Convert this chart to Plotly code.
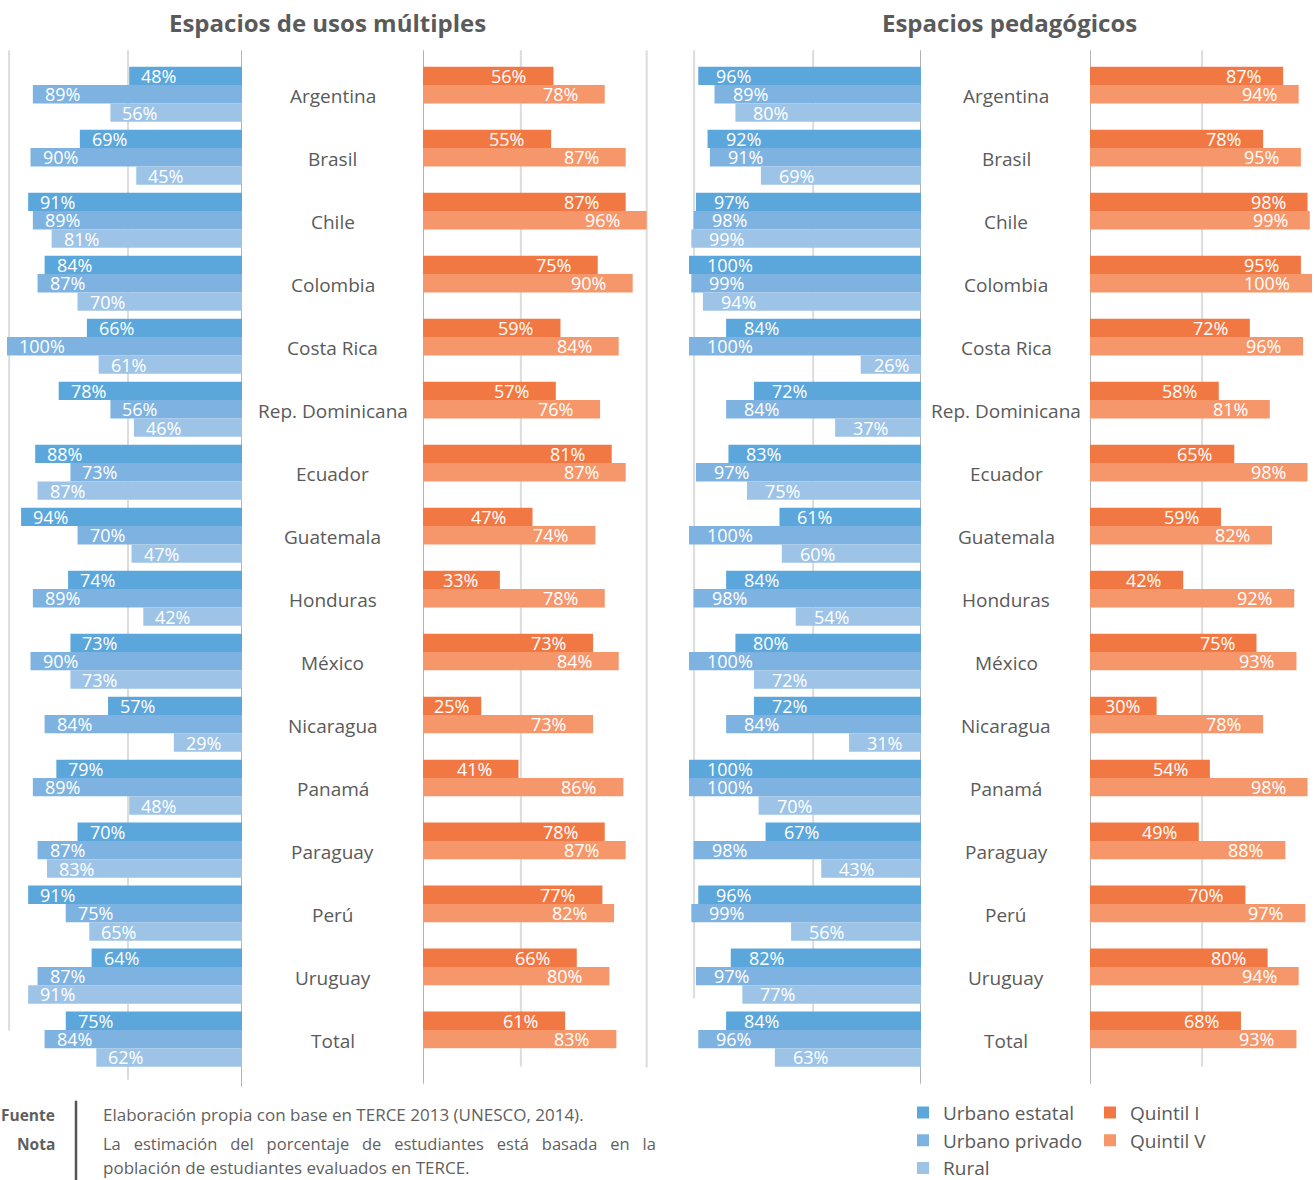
import plotly.graph_objects as go

W, H = 1315, 1180
FIG_H = 1188  # page height given to the figure

paises = ["Argentina", "Brasil", "Chile", "Colombia", "Costa Rica", "Rep. Dominicana",
          "Ecuador", "Guatemala", "Honduras", "México", "Nicaragua", "Panamá",
          "Paraguay", "Perú", "Uruguay", "Total"]

# Espacios de usos múltiples (% de estudiantes)
usos_urbano_estatal = [48, 69, 91, 84, 66, 78, 88, 94, 74, 73, 57, 79, 70, 91, 64, 75]
usos_urbano_privado = [89, 90, 89, 87, 100, 56, 73, 70, 89, 90, 84, 89, 87, 75, 87, 84]
usos_rural = [56, 45, 81, 70, 61, 46, 87, 47, 42, 73, 29, 48, 83, 65, 91, 62]
usos_quintil_1 = [56, 55, 87, 75, 59, 57, 81, 47, 33, 73, 25, 41, 78, 77, 66, 61]
usos_quintil_5 = [78, 87, 96, 90, 84, 76, 87, 74, 78, 84, 73, 86, 87, 82, 80, 83]

# Espacios pedagógicos (% de estudiantes)
ped_urbano_estatal = [96, 92, 97, 100, 84, 72, 83, 61, 84, 80, 72, 100, 67, 96, 82, 84]
ped_urbano_privado = [89, 91, 98, 99, 100, 84, 97, 100, 98, 100, 84, 100, 98, 99, 97, 96]
ped_rural = [80, 69, 99, 94, 26, 37, 75, 60, 54, 72, 31, 70, 43, 56, 77, 63]
ped_quintil_1 = [87, 78, 98, 95, 72, 58, 65, 59, 42, 75, 30, 54, 49, 70, 80, 68]
ped_quintil_5 = [94, 95, 99, 100, 96, 81, 98, 82, 92, 93, 78, 98, 88, 97, 94, 93]

titulos = ["Espacios de usos múltiples", "Espacios pedagógicos"]
nombres_zona = ["Urbano estatal", "Urbano privado", "Rural"]
nombres_quintil = ["Quintil I", "Quintil V"]

COL_ZONA = ["#5BA7DB", "#7EB3E1", "#9DC4E7"]
COL_QUINTIL = ["#F27843", "#F5976A"]
GRIS_TXT = "#5a5a5a"
FONT = "Open Sans"


def px_x(p):
    return p / W


def px_y(p):
    return 1 - p / H


# panel geometry: zero line pixel and pixels per percentage point
paneles = [
    dict(zero_z=242, ppu_z=2.35, zero_q=423, ppu_q=2.33, end_q=660, start_z=0,
         centro=332.5, pad_z=10, pad_q=25, titulo_x=327),
    dict(zero_z=921, ppu_z=2.32, zero_q=1090, ppu_q=2.22, end_q=1315, start_z=686,
         centro=1006, pad_z=16, pad_q=20, titulo_x=1009),
]

datos = [
    ([usos_urbano_estatal, usos_urbano_privado, usos_rural], [usos_quintil_1, usos_quintil_5]),
    ([ped_urbano_estatal, ped_urbano_privado, ped_rural], [ped_quintil_1, ped_quintil_5]),
]

BAR = 0.2915           # bar thickness in category units
TOP = -1.5 * BAR       # offset of first bar in each group
n = len(paises)

fig = go.Figure()
annotations = []
shapes = []
layout_axes = {}


def text_w(v):
    return 50 if v >= 100 else 38


for p_i, (panel, (zona, quint)) in enumerate(zip(paneles, datos)):
    xa_z = "x" if p_i == 0 else "x3"
    xa_q = "x2" if p_i == 0 else "x4"
    ax_z = xa_z.replace("x", "xaxis")
    ax_q = xa_q.replace("x", "xaxis")

    rng_z = (panel["zero_z"] - panel["start_z"]) / panel["ppu_z"]
    rng_q = (panel["end_q"] - panel["zero_q"]) / panel["ppu_q"]
    axis_common = dict(showgrid=False, zeroline=False, showticklabels=False,
                       showline=False, ticks="", fixedrange=True, anchor="y")
    layout_axes[ax_z] = dict(domain=[px_x(panel["start_z"]), px_x(panel["zero_z"])],
                             range=[rng_z, 0], **axis_common)
    layout_axes[ax_q] = dict(domain=[px_x(panel["zero_q"]), px_x(panel["end_q"])],
                             range=[0, rng_q], **axis_common)

    leg = p_i == 1
    for k, vals in enumerate(zona):
        fig.add_trace(go.Bar(
            y=paises, x=vals, orientation="h", xaxis=xa_z, yaxis="y",
            width=BAR, offset=TOP + k * BAR, marker=dict(color=COL_ZONA[k], line=dict(width=0)),
            name=nombres_zona[k], showlegend=leg, legend="legend", hoverinfo="x+y"))
        for i, v in enumerate(vals):
            pad = min(panel["pad_z"], (v * panel["ppu_z"] - text_w(v)) / 2)
            annotations.append(dict(
                x=v, y=i + TOP + (k + 0.5) * BAR, xref=xa_z, yref="y", text=f"{v}%",
                xanchor="left", yanchor="middle", xshift=pad, showarrow=False,
                font=dict(family=FONT, size=18, color="white")))
    for k, vals in enumerate(quint):
        fig.add_trace(go.Bar(
            y=paises, x=vals, orientation="h", xaxis=xa_q, yaxis="y",
            width=BAR, offset=TOP + k * BAR, marker=dict(color=COL_QUINTIL[k], line=dict(width=0)),
            name=nombres_quintil[k], showlegend=leg, legend="legend2", hoverinfo="x+y"))
        for i, v in enumerate(vals):
            pad = min(panel["pad_q"], (v * panel["ppu_q"] - text_w(v)) / 2)
            annotations.append(dict(
                x=v, y=i + TOP + (k + 0.5) * BAR, xref=xa_q, yref="y", text=f"{v}%",
                xanchor="right", yanchor="middle", xshift=-pad, showarrow=False,
                font=dict(family=FONT, size=18, color="white")))

    # country names in the central gap
    for i, pais in enumerate(paises):
        annotations.append(dict(
            x=px_x(panel["centro"]), y=i, xref="paper", yref="y", text=pais,
            xanchor="center", yanchor="middle", yshift=-2, showarrow=False,
            font=dict(family=FONT, size=19, color=GRIS_TXT)))

    annotations.append(dict(
        x=px_x(panel["titulo_x"]), y=px_y(22), xref="paper", yref="paper",
        text=f"<b>{titulos[p_i]}</b>", xanchor="center", yanchor="middle", showarrow=False,
        font=dict(family=FONT, size=24, color=GRIS_TXT)))


# reference lines (zero axes and light guides), in axis units
def vline(xref, x, y0, y1, color, width):
    shapes.append(dict(type="line", xref=xref, yref="paper", x0=x, x1=x,
                       y0=px_y(y0), y1=px_y(y1), layer="below",
                       line=dict(color=color, width=width)))


GUIA = "#DCDCDC"
EJE = "#9A9A9A"
vline("x", 99.1, 50, 1027, GUIA, 2)
vline("x", 48.5, 50, 1076, GUIA, 2)
vline("x", 0, 50, 1083, EJE, 1.5)
vline("x2", 0, 50, 1080, EJE, 1.5)
vline("x2", 42, 50, 1063, GUIA, 2)
vline("x2", 96, 50, 1064, GUIA, 2)
vline("x3", 97.8, 50, 995, GUIA, 2)
vline("x3", 46.5, 50, 1063, GUIA, 2)
vline("x3", 0, 50, 1080, EJE, 1.5)
vline("x4", 0, 50, 1080, EJE, 1.5)
vline("x4", 50.5, 50, 1063, GUIA, 2)

# footer: source and note
shapes.append(dict(type="line", xref="paper", yref="paper", x0=px_x(76), x1=px_x(76),
                   y0=px_y(1097), y1=px_y(1180), line=dict(color="#555555", width=2.5)))
SP = "\u00a0\u00a0 "
pie = [
    ("<b>Fuente</b>", 57, 1111, "right", 15.5),
    ("<b>Nota</b>", 57, 1140, "right", 15.5),
    ("Elaboración propia con base en TERCE 2013 (UNESCO, 2014).", 101, 1111, "left", 17),
    (SP.join("La estimación del porcentaje de estudiantes está basada en la".split()),
     101, 1140, "left", 16.5),
    ("población de estudiantes evaluados en TERCE.", 101, 1164, "left", 17),
]
for txt, x, y, anc, size in pie:
    annotations.append(dict(x=px_x(x), y=px_y(y), xref="paper", yref="paper", text=txt,
                            xanchor=anc, yanchor="middle", showarrow=False,
                            font=dict(family=FONT, size=size, color="#5f5f5f")))

legend_style = dict(xanchor="left", yanchor="top", bgcolor="rgba(0,0,0,0)",
                    font=dict(family=FONT, size=19, color=GRIS_TXT),
                    itemclick=False, itemdoubleclick=False, traceorder="normal",
                    orientation="v")

fig.update_layout(
    width=W, height=FIG_H, margin=dict(l=0, r=0, t=0, b=0),
    paper_bgcolor="white", plot_bgcolor="white",
    barmode="overlay",
    font=dict(family=FONT, color=GRIS_TXT),
    yaxis=dict(type="category", categoryorder="array", categoryarray=paises,
               range=[n - 0.5, -0.5], domain=[px_y(1067), px_y(62.6)],
               visible=False, fixedrange=True),
    legend=dict(x=px_x(903), y=px_y(1090), **legend_style),
    legend2=dict(x=px_x(1090), y=px_y(1090), **legend_style),
    annotations=annotations,
    shapes=shapes,
    **layout_axes,
)

fig.write_html("out.html")
